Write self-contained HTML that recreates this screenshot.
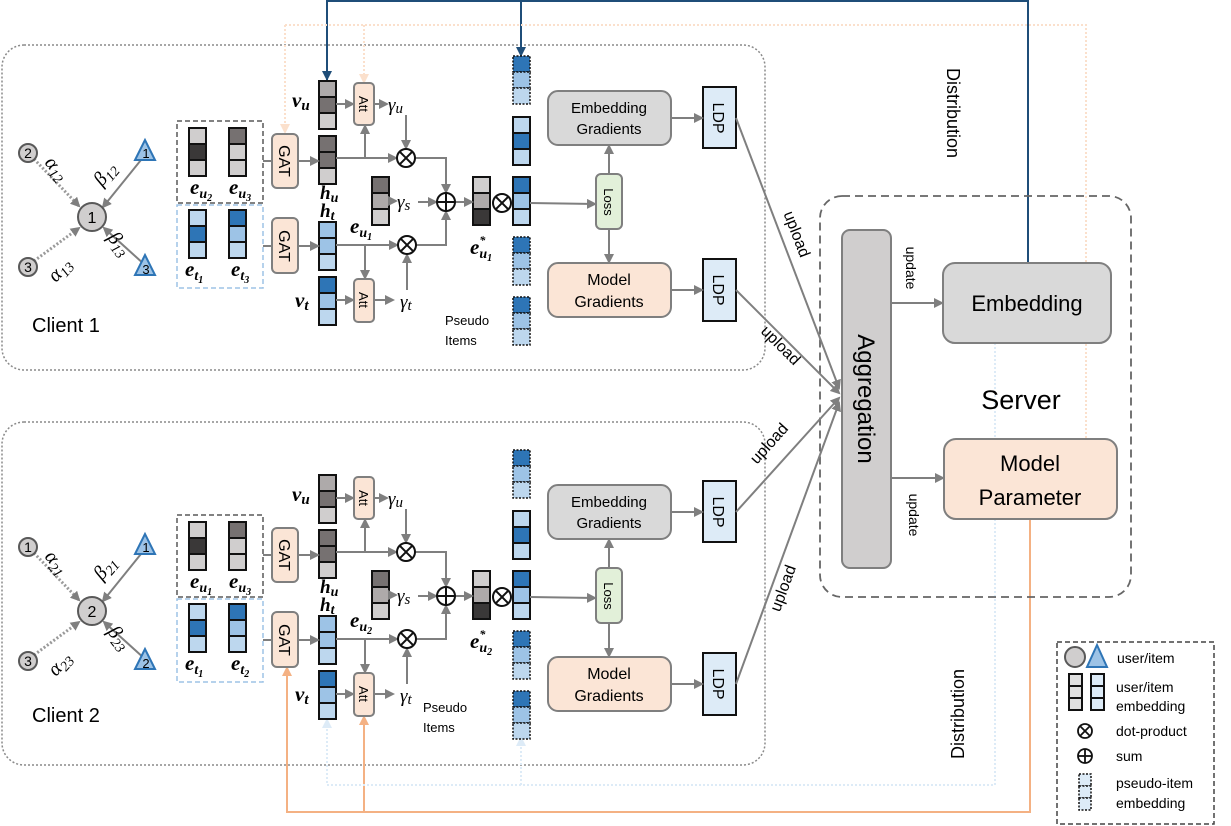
<!DOCTYPE html>
<html><head><meta charset="utf-8"><style>
html,body{margin:0;padding:0;background:#fff}
svg{display:block}
text{font-family:"Liberation Sans",sans-serif}
.m{font-family:"Liberation Serif",serif;font-style:italic}
.b{font-weight:bold}
.ln{stroke:#7f7f7f;stroke-width:2;fill:none}
.dt{stroke:#9a9a9a;stroke-width:3;stroke-dasharray:2,2;fill:none}
.c{stroke:#111;stroke-width:2}
.pd{stroke:#111;stroke-width:1.5;stroke-dasharray:2,1.5}
</style></head><body>
<svg width="1231" height="826" viewBox="0 0 1231 826" xmlns="http://www.w3.org/2000/svg">
<defs>
<marker id="ag" markerWidth="10" markerHeight="10" refX="8" refY="5" orient="auto" markerUnits="userSpaceOnUse"><polygon points="0,0 10,5 0,10" fill="#7f7f7f"/></marker>
<marker id="ab" markerWidth="10" markerHeight="10" refX="8" refY="5" orient="auto" markerUnits="userSpaceOnUse"><polygon points="0,0 10,5 0,10" fill="#1f4e79"/></marker>
<marker id="ao" markerWidth="10" markerHeight="10" refX="8" refY="5" orient="auto" markerUnits="userSpaceOnUse"><polygon points="0,0 10,5 0,10" fill="#f4b183"/></marker>
<marker id="ao2" markerWidth="10" markerHeight="10" refX="8" refY="5" orient="auto" markerUnits="userSpaceOnUse"><polygon points="0,0 10,5 0,10" fill="#fbe0cc"/></marker>
<marker id="al" markerWidth="10" markerHeight="10" refX="8" refY="5" orient="auto" markerUnits="userSpaceOnUse"><polygon points="0,0 10,5 0,10" fill="#ddebf7"/></marker>
</defs>

<rect x="2" y="45" width="763" height="325" rx="22" fill="none" stroke="#8a8a8a" stroke-width="1.5" stroke-dasharray="2,2"/>
<rect x="2" y="422" width="763" height="343" rx="22" fill="none" stroke="#8a8a8a" stroke-width="1.5" stroke-dasharray="2,2"/>

<polyline points="327,80 327,1 1028,1 1028,263" fill="none" stroke="#1f4e79" stroke-width="2"/>
<line x1="327" y1="2" x2="327" y2="79" stroke="#1f4e79" stroke-width="2" marker-end="url(#ab)"/>
<line x1="521" y1="2" x2="521" y2="55" stroke="#1f4e79" stroke-width="2" marker-end="url(#ab)"/>
<polyline points="285,25 1086,25 1086,439" fill="none" stroke="#fbe0cc" stroke-width="2" stroke-dasharray="2,2"/>
<line x1="285" y1="25" x2="285" y2="132" stroke="#fbe0cc" stroke-width="2" stroke-dasharray="2,2" marker-end="url(#ao2)"/>
<line x1="364" y1="25" x2="364" y2="82" stroke="#fbe0cc" stroke-width="2" stroke-dasharray="2,2" marker-end="url(#ao2)"/>
<polyline points="1030,519 1030,812 287,812 287,668" fill="none" stroke="#f4b183" stroke-width="2" marker-end="url(#ao)"/>
<line x1="364" y1="812" x2="364" y2="717" stroke="#f4b183" stroke-width="2" marker-end="url(#ao)"/>
<polyline points="995,343 995,785 327,785 327,720" fill="none" stroke="#ddebf7" stroke-width="2" stroke-dasharray="2,2" marker-end="url(#al)"/>
<line x1="521" y1="785" x2="521" y2="738" stroke="#ddebf7" stroke-width="2" stroke-dasharray="2,2" marker-end="url(#al)"/>

<!-- CLIENT 1 -->
<g>
<line x1="34" y1="159" x2="79" y2="206" class="dt" marker-end="url(#ag)"/>
<line x1="34" y1="261" x2="79" y2="228" class="dt" marker-end="url(#ag)"/>
<line x1="145" y1="155" x2="103" y2="207" class="ln" stroke-width="3" marker-end="url(#ag)"/>
<line x1="145" y1="265" x2="104" y2="228" class="ln" stroke-width="3" marker-end="url(#ag)"/>
<circle cx="28" cy="153" r="9" fill="#d0cece" stroke="#595959" stroke-width="2"/><text x="28" y="158" font-size="14" text-anchor="middle">2</text>
<circle cx="28" cy="267" r="9" fill="#d0cece" stroke="#595959" stroke-width="2"/><text x="28" y="272" font-size="14" text-anchor="middle">3</text>
<circle cx="92" cy="217" r="14" fill="#d0cece" stroke="#595959" stroke-width="2"/><text x="92" y="223" font-size="16" text-anchor="middle">1</text>
<polygon points="145,140 135,160 155,160" fill="#9dc3e6" stroke="#2e75b6" stroke-width="2"/><text x="146" y="158" font-size="13" text-anchor="middle">1</text>
<polygon points="145,255 135,275 155,275" fill="#9dc3e6" stroke="#2e75b6" stroke-width="2"/><text x="146" y="274" font-size="13" text-anchor="middle">3</text>
<text class="m" font-size="20" transform="translate(44,163) rotate(50)">α<tspan font-size="14" dy="4">12</tspan></text>
<text class="m" font-size="20" transform="translate(56,283) rotate(-48)">α<tspan font-size="14" dy="4">13</tspan></text>
<text class="m" font-size="20" transform="translate(102,187) rotate(-50)">β<tspan font-size="14" dy="4">12</tspan></text>
<text class="m" font-size="20" transform="translate(107,238) rotate(52)">β<tspan font-size="14" dy="4">13</tspan></text>
<rect x="177" y="121" width="86" height="82" fill="none" stroke="#595959" stroke-width="1.5" stroke-dasharray="5,3"/>
<rect x="177" y="205" width="86" height="83" fill="none" stroke="#9dc3e6" stroke-width="1.5" stroke-dasharray="5,3"/>
<g class="c">
<rect x="189" y="128" width="17" height="16" fill="#d0cece"/><rect x="189" y="144" width="17" height="16" fill="#3a3838"/><rect x="189" y="160" width="17" height="16" fill="#d0cece"/>
<rect x="229" y="128" width="17" height="16" fill="#767171"/><rect x="229" y="144" width="17" height="16" fill="#d0cece"/><rect x="229" y="160" width="17" height="16" fill="#d0cece"/>
<rect x="189" y="210" width="17" height="16" fill="#bdd7ee"/><rect x="189" y="226" width="17" height="16" fill="#2e75b6"/><rect x="189" y="242" width="17" height="16" fill="#bdd7ee"/>
<rect x="229" y="210" width="17" height="16" fill="#2e75b6"/><rect x="229" y="226" width="17" height="16" fill="#9dc3e6"/><rect x="229" y="242" width="17" height="16" fill="#bdd7ee"/>
<rect x="319" y="81" width="17" height="16" fill="#aeaaaa"/><rect x="319" y="97" width="17" height="16" fill="#767171"/><rect x="319" y="113" width="17" height="16" fill="#d0cece"/>
<rect x="319" y="136" width="17" height="16" fill="#767171"/><rect x="319" y="152" width="17" height="16" fill="#767171"/><rect x="319" y="168" width="17" height="16" fill="#d0cece"/>
<rect x="319" y="222" width="17" height="16" fill="#9dc3e6"/><rect x="319" y="238" width="17" height="16" fill="#9dc3e6"/><rect x="319" y="254" width="17" height="16" fill="#bdd7ee"/>
<rect x="319" y="277" width="17" height="16" fill="#2e75b6"/><rect x="319" y="293" width="17" height="16" fill="#9dc3e6"/><rect x="319" y="309" width="17" height="16" fill="#bdd7ee"/>
<rect x="372" y="177" width="17" height="16" fill="#767171"/><rect x="372" y="193" width="17" height="16" fill="#aeaaaa"/><rect x="372" y="209" width="17" height="16" fill="#d0cece"/>
<rect x="473" y="177" width="17" height="16" fill="#d0cece"/><rect x="473" y="193" width="17" height="16" fill="#aeaaaa"/><rect x="473" y="209" width="17" height="16" fill="#3a3838"/>
<rect x="513" y="117" width="17" height="16" fill="#bdd7ee"/><rect x="513" y="133" width="17" height="16" fill="#2e75b6"/><rect x="513" y="149" width="17" height="16" fill="#bdd7ee"/>
<rect x="513" y="177" width="17" height="16" fill="#2e75b6"/><rect x="513" y="193" width="17" height="16" fill="#9dc3e6"/><rect x="513" y="209" width="17" height="16" fill="#bdd7ee"/>
</g>
<g class="pd">
<rect x="513" y="56" width="17" height="16" fill="#2e75b6"/><rect x="513" y="72" width="17" height="16" fill="#9dc3e6"/><rect x="513" y="88" width="17" height="16" fill="#bdd7ee"/>
<rect x="513" y="237" width="17" height="16" fill="#2e75b6"/><rect x="513" y="253" width="17" height="16" fill="#9dc3e6"/><rect x="513" y="269" width="17" height="16" fill="#bdd7ee"/>
<rect x="513" y="297" width="17" height="16" fill="#2e75b6"/><rect x="513" y="313" width="17" height="16" fill="#9dc3e6"/><rect x="513" y="329" width="17" height="16" fill="#bdd7ee"/>
</g>
<text class="m b" x="190" y="194" font-size="21">e<tspan font-size="14" dy="4">u</tspan><tspan font-size="10" dy="3">2</tspan></text>
<text class="m b" x="229" y="194" font-size="21">e<tspan font-size="14" dy="4">u</tspan><tspan font-size="10" dy="3">3</tspan></text>
<text class="m b" x="185" y="276" font-size="21">e<tspan font-size="14" dy="4">t</tspan><tspan font-size="10" dy="3">1</tspan></text>
<text class="m b" x="231" y="276" font-size="21">e<tspan font-size="14" dy="4">t</tspan><tspan font-size="10" dy="3">3</tspan></text>
<text class="m b" x="292" y="107" font-size="21">v<tspan font-size="15" dy="3">u</tspan></text>
<text class="m b" x="295" y="307" font-size="21">v<tspan font-size="15" dy="3">t</tspan></text>
<text class="m b" x="320" y="199" font-size="19">h<tspan font-size="14" dy="3">u</tspan></text>
<text class="m b" x="320" y="217" font-size="19">h<tspan font-size="14" dy="3">t</tspan></text>
<text class="m b" x="350" y="233" font-size="21">e<tspan font-size="14" dy="4">u</tspan><tspan font-size="10" dy="3">1</tspan></text>
<text class="m b" x="470" y="254" font-size="21">e<tspan font-size="12" dy="-10">*</tspan><tspan font-size="14" dx="-6" dy="14">u</tspan><tspan font-size="10" dy="3">1</tspan></text>
<text class="m" x="388" y="111" font-size="19">γ<tspan font-size="15" dy="2">u</tspan></text>
<text class="m" x="397" y="208" font-size="19">γ<tspan font-size="15" dy="2">s</tspan></text>
<text class="m" x="400" y="308" font-size="19">γ<tspan font-size="15" dy="2">t</tspan></text>
<rect x="272" y="134" width="26" height="54" rx="5" fill="#fbe5d6" stroke="#7f7f7f" stroke-width="2"/>
<text transform="translate(279,161) rotate(90)" font-size="16" text-anchor="middle">GAT</text>
<rect x="272" y="218" width="26" height="55" rx="5" fill="#fbe5d6" stroke="#7f7f7f" stroke-width="2"/>
<text transform="translate(279,246) rotate(90)" font-size="16" text-anchor="middle">GAT</text>
<rect x="354" y="83" width="20" height="42" rx="4" fill="#fbe5d6" stroke="#7f7f7f" stroke-width="2"/>
<text transform="translate(359,104) rotate(90)" font-size="13" text-anchor="middle">Att</text>
<rect x="354" y="279" width="20" height="43" rx="4" fill="#fbe5d6" stroke="#7f7f7f" stroke-width="2"/>
<text transform="translate(359,300) rotate(90)" font-size="13" text-anchor="middle">Att</text>
<line x1="263" y1="161" x2="272" y2="161" class="ln"/>
<line x1="298" y1="161" x2="318" y2="161" class="ln" marker-end="url(#ag)"/>
<line x1="263" y1="246" x2="272" y2="246" class="ln"/>
<line x1="298" y1="246" x2="318" y2="246" class="ln" marker-end="url(#ag)"/>
<line x1="336" y1="104" x2="353" y2="104" class="ln" marker-end="url(#ag)"/>
<line x1="374" y1="104" x2="387" y2="104" class="ln" marker-end="url(#ag)"/>
<line x1="406" y1="115" x2="406" y2="148" class="ln" marker-end="url(#ag)"/>
<line x1="336" y1="158" x2="396" y2="158" class="ln" marker-end="url(#ag)"/>
<line x1="365" y1="158" x2="365" y2="126" class="ln" marker-end="url(#ag)"/>
<polyline points="415,158 446,158 446,192" class="ln" marker-end="url(#ag)"/>
<line x1="389" y1="201" x2="396" y2="201" class="ln" marker-end="url(#ag)"/>
<line x1="418" y1="202" x2="436" y2="202" class="ln" marker-end="url(#ag)"/>
<line x1="336" y1="245" x2="397" y2="245" class="ln" marker-end="url(#ag)"/>
<line x1="365" y1="245" x2="365" y2="278" class="ln" marker-end="url(#ag)"/>
<line x1="374" y1="300" x2="393" y2="300" class="ln" marker-end="url(#ag)"/>
<line x1="336" y1="300" x2="353" y2="300" class="ln" marker-end="url(#ag)"/>
<line x1="407" y1="290" x2="407" y2="255" class="ln" marker-end="url(#ag)"/>
<polyline points="416,245 446,245 446,212" class="ln" marker-end="url(#ag)"/>
<line x1="455" y1="202" x2="472" y2="202" class="ln" marker-end="url(#ag)"/>
<line x1="530" y1="203" x2="595" y2="204" class="ln" marker-end="url(#ag)"/>
<g stroke="#111" stroke-width="2" fill="#fff">
<circle cx="406" cy="158" r="9"/><line x1="399.6" y1="151.6" x2="412.4" y2="164.4"/><line x1="412.4" y1="151.6" x2="399.6" y2="164.4"/>
<circle cx="407" cy="245" r="9"/><line x1="400.6" y1="238.6" x2="413.4" y2="251.4"/><line x1="413.4" y1="238.6" x2="400.6" y2="251.4"/>
<circle cx="502" cy="203" r="9"/><line x1="495.6" y1="196.6" x2="508.4" y2="209.4"/><line x1="508.4" y1="196.6" x2="495.6" y2="209.4"/>
<circle cx="446" cy="202" r="9"/><line x1="437" y1="202" x2="455" y2="202"/><line x1="446" y1="193" x2="446" y2="211"/>
</g>
<text x="445" y="325" font-size="13">Pseudo</text><text x="445" y="345" font-size="13">Items</text>
<text x="32" y="332" font-size="20">Client 1</text>
<rect x="548" y="91" width="123" height="54" rx="10" fill="#d9d9d9" stroke="#7f7f7f" stroke-width="2"/>
<text x="609" y="113" font-size="15" text-anchor="middle">Embedding</text><text x="609" y="134" font-size="15" text-anchor="middle">Gradients</text>
<rect x="548" y="263" width="123" height="54" rx="10" fill="#fbe5d6" stroke="#7f7f7f" stroke-width="2"/>
<text x="609" y="285" font-size="16" text-anchor="middle">Model</text><text x="609" y="307" font-size="16" text-anchor="middle">Gradients</text>
<rect x="596" y="174" width="26" height="55" rx="5" fill="#e2f0d9" stroke="#7f7f7f" stroke-width="2"/>
<text transform="translate(604,202) rotate(90)" font-size="13" text-anchor="middle">Loss</text>
<line x1="609" y1="174" x2="609" y2="146" class="ln" marker-end="url(#ag)"/>
<line x1="609" y1="229" x2="609" y2="262" class="ln" marker-end="url(#ag)"/>
<rect x="703" y="87" width="33" height="61" fill="#ddebf7" stroke="#111" stroke-width="2"/>
<text transform="translate(713,118) rotate(90)" font-size="16" text-anchor="middle">LDP</text>
<rect x="703" y="259" width="33" height="62" fill="#ddebf7" stroke="#111" stroke-width="2"/>
<text transform="translate(713,290) rotate(90)" font-size="16" text-anchor="middle">LDP</text>
<line x1="671" y1="118" x2="702" y2="118" class="ln" marker-end="url(#ag)"/>
<line x1="671" y1="290" x2="702" y2="290" class="ln" marker-end="url(#ag)"/>
</g>

<!-- CLIENT 2 -->
<g transform="translate(0,394)">
<line x1="34" y1="159" x2="79" y2="206" class="dt" marker-end="url(#ag)"/>
<line x1="34" y1="261" x2="79" y2="228" class="dt" marker-end="url(#ag)"/>
<line x1="145" y1="155" x2="103" y2="207" class="ln" stroke-width="3" marker-end="url(#ag)"/>
<line x1="145" y1="265" x2="104" y2="228" class="ln" stroke-width="3" marker-end="url(#ag)"/>
<circle cx="28" cy="153" r="9" fill="#d0cece" stroke="#595959" stroke-width="2"/><text x="28" y="158" font-size="14" text-anchor="middle">1</text>
<circle cx="28" cy="267" r="9" fill="#d0cece" stroke="#595959" stroke-width="2"/><text x="28" y="272" font-size="14" text-anchor="middle">3</text>
<circle cx="92" cy="217" r="14" fill="#d0cece" stroke="#595959" stroke-width="2"/><text x="92" y="223" font-size="16" text-anchor="middle">2</text>
<polygon points="145,140 135,160 155,160" fill="#9dc3e6" stroke="#2e75b6" stroke-width="2"/><text x="146" y="158" font-size="13" text-anchor="middle">1</text>
<polygon points="145,255 135,275 155,275" fill="#9dc3e6" stroke="#2e75b6" stroke-width="2"/><text x="146" y="274" font-size="13" text-anchor="middle">2</text>
<text class="m" font-size="20" transform="translate(44,163) rotate(50)">α<tspan font-size="14" dy="4">21</tspan></text>
<text class="m" font-size="20" transform="translate(56,283) rotate(-48)">α<tspan font-size="14" dy="4">23</tspan></text>
<text class="m" font-size="20" transform="translate(102,187) rotate(-50)">β<tspan font-size="14" dy="4">21</tspan></text>
<text class="m" font-size="20" transform="translate(107,238) rotate(52)">β<tspan font-size="14" dy="4">23</tspan></text>
<rect x="177" y="121" width="86" height="82" fill="none" stroke="#595959" stroke-width="1.5" stroke-dasharray="5,3"/>
<rect x="177" y="205" width="86" height="83" fill="none" stroke="#9dc3e6" stroke-width="1.5" stroke-dasharray="5,3"/>
<g class="c">
<rect x="189" y="128" width="17" height="16" fill="#d0cece"/><rect x="189" y="144" width="17" height="16" fill="#3a3838"/><rect x="189" y="160" width="17" height="16" fill="#d0cece"/>
<rect x="229" y="128" width="17" height="16" fill="#767171"/><rect x="229" y="144" width="17" height="16" fill="#d0cece"/><rect x="229" y="160" width="17" height="16" fill="#d0cece"/>
<rect x="189" y="210" width="17" height="16" fill="#bdd7ee"/><rect x="189" y="226" width="17" height="16" fill="#2e75b6"/><rect x="189" y="242" width="17" height="16" fill="#bdd7ee"/>
<rect x="229" y="210" width="17" height="16" fill="#2e75b6"/><rect x="229" y="226" width="17" height="16" fill="#9dc3e6"/><rect x="229" y="242" width="17" height="16" fill="#bdd7ee"/>
<rect x="319" y="81" width="17" height="16" fill="#aeaaaa"/><rect x="319" y="97" width="17" height="16" fill="#767171"/><rect x="319" y="113" width="17" height="16" fill="#d0cece"/>
<rect x="319" y="136" width="17" height="16" fill="#767171"/><rect x="319" y="152" width="17" height="16" fill="#767171"/><rect x="319" y="168" width="17" height="16" fill="#d0cece"/>
<rect x="319" y="222" width="17" height="16" fill="#9dc3e6"/><rect x="319" y="238" width="17" height="16" fill="#9dc3e6"/><rect x="319" y="254" width="17" height="16" fill="#bdd7ee"/>
<rect x="319" y="277" width="17" height="16" fill="#2e75b6"/><rect x="319" y="293" width="17" height="16" fill="#9dc3e6"/><rect x="319" y="309" width="17" height="16" fill="#bdd7ee"/>
<rect x="372" y="177" width="17" height="16" fill="#767171"/><rect x="372" y="193" width="17" height="16" fill="#aeaaaa"/><rect x="372" y="209" width="17" height="16" fill="#d0cece"/>
<rect x="473" y="177" width="17" height="16" fill="#d0cece"/><rect x="473" y="193" width="17" height="16" fill="#aeaaaa"/><rect x="473" y="209" width="17" height="16" fill="#3a3838"/>
<rect x="513" y="117" width="17" height="16" fill="#bdd7ee"/><rect x="513" y="133" width="17" height="16" fill="#2e75b6"/><rect x="513" y="149" width="17" height="16" fill="#bdd7ee"/>
<rect x="513" y="177" width="17" height="16" fill="#2e75b6"/><rect x="513" y="193" width="17" height="16" fill="#9dc3e6"/><rect x="513" y="209" width="17" height="16" fill="#bdd7ee"/>
</g>
<g class="pd">
<rect x="513" y="56" width="17" height="16" fill="#2e75b6"/><rect x="513" y="72" width="17" height="16" fill="#9dc3e6"/><rect x="513" y="88" width="17" height="16" fill="#bdd7ee"/>
<rect x="513" y="237" width="17" height="16" fill="#2e75b6"/><rect x="513" y="253" width="17" height="16" fill="#9dc3e6"/><rect x="513" y="269" width="17" height="16" fill="#bdd7ee"/>
<rect x="513" y="297" width="17" height="16" fill="#2e75b6"/><rect x="513" y="313" width="17" height="16" fill="#9dc3e6"/><rect x="513" y="329" width="17" height="16" fill="#bdd7ee"/>
</g>
<text class="m b" x="190" y="194" font-size="21">e<tspan font-size="14" dy="4">u</tspan><tspan font-size="10" dy="3">1</tspan></text>
<text class="m b" x="229" y="194" font-size="21">e<tspan font-size="14" dy="4">u</tspan><tspan font-size="10" dy="3">3</tspan></text>
<text class="m b" x="185" y="276" font-size="21">e<tspan font-size="14" dy="4">t</tspan><tspan font-size="10" dy="3">1</tspan></text>
<text class="m b" x="231" y="276" font-size="21">e<tspan font-size="14" dy="4">t</tspan><tspan font-size="10" dy="3">2</tspan></text>
<text class="m b" x="292" y="107" font-size="21">v<tspan font-size="15" dy="3">u</tspan></text>
<text class="m b" x="295" y="307" font-size="21">v<tspan font-size="15" dy="3">t</tspan></text>
<text class="m b" x="320" y="199" font-size="19">h<tspan font-size="14" dy="3">u</tspan></text>
<text class="m b" x="320" y="217" font-size="19">h<tspan font-size="14" dy="3">t</tspan></text>
<text class="m b" x="350" y="233" font-size="21">e<tspan font-size="14" dy="4">u</tspan><tspan font-size="10" dy="3">2</tspan></text>
<text class="m b" x="470" y="254" font-size="21">e<tspan font-size="12" dy="-10">*</tspan><tspan font-size="14" dx="-6" dy="14">u</tspan><tspan font-size="10" dy="3">2</tspan></text>
<text class="m" x="388" y="111" font-size="19">γ<tspan font-size="15" dy="2">u</tspan></text>
<text class="m" x="397" y="208" font-size="19">γ<tspan font-size="15" dy="2">s</tspan></text>
<text class="m" x="400" y="308" font-size="19">γ<tspan font-size="15" dy="2">t</tspan></text>
<rect x="272" y="134" width="26" height="54" rx="5" fill="#fbe5d6" stroke="#7f7f7f" stroke-width="2"/>
<text transform="translate(279,161) rotate(90)" font-size="16" text-anchor="middle">GAT</text>
<rect x="272" y="218" width="26" height="55" rx="5" fill="#fbe5d6" stroke="#7f7f7f" stroke-width="2"/>
<text transform="translate(279,246) rotate(90)" font-size="16" text-anchor="middle">GAT</text>
<rect x="354" y="83" width="20" height="42" rx="4" fill="#fbe5d6" stroke="#7f7f7f" stroke-width="2"/>
<text transform="translate(359,104) rotate(90)" font-size="13" text-anchor="middle">Att</text>
<rect x="354" y="279" width="20" height="43" rx="4" fill="#fbe5d6" stroke="#7f7f7f" stroke-width="2"/>
<text transform="translate(359,300) rotate(90)" font-size="13" text-anchor="middle">Att</text>
<line x1="263" y1="161" x2="272" y2="161" class="ln"/>
<line x1="298" y1="161" x2="318" y2="161" class="ln" marker-end="url(#ag)"/>
<line x1="263" y1="246" x2="272" y2="246" class="ln"/>
<line x1="298" y1="246" x2="318" y2="246" class="ln" marker-end="url(#ag)"/>
<line x1="336" y1="104" x2="353" y2="104" class="ln" marker-end="url(#ag)"/>
<line x1="374" y1="104" x2="387" y2="104" class="ln" marker-end="url(#ag)"/>
<line x1="406" y1="115" x2="406" y2="148" class="ln" marker-end="url(#ag)"/>
<line x1="336" y1="158" x2="396" y2="158" class="ln" marker-end="url(#ag)"/>
<line x1="365" y1="158" x2="365" y2="126" class="ln" marker-end="url(#ag)"/>
<polyline points="415,158 446,158 446,192" class="ln" marker-end="url(#ag)"/>
<line x1="389" y1="201" x2="396" y2="201" class="ln" marker-end="url(#ag)"/>
<line x1="418" y1="202" x2="436" y2="202" class="ln" marker-end="url(#ag)"/>
<line x1="336" y1="245" x2="397" y2="245" class="ln" marker-end="url(#ag)"/>
<line x1="365" y1="245" x2="365" y2="278" class="ln" marker-end="url(#ag)"/>
<line x1="374" y1="300" x2="393" y2="300" class="ln" marker-end="url(#ag)"/>
<line x1="336" y1="300" x2="353" y2="300" class="ln" marker-end="url(#ag)"/>
<line x1="407" y1="290" x2="407" y2="255" class="ln" marker-end="url(#ag)"/>
<polyline points="416,245 446,245 446,212" class="ln" marker-end="url(#ag)"/>
<line x1="455" y1="202" x2="472" y2="202" class="ln" marker-end="url(#ag)"/>
<line x1="530" y1="203" x2="595" y2="204" class="ln" marker-end="url(#ag)"/>
<g stroke="#111" stroke-width="2" fill="#fff">
<circle cx="406" cy="158" r="9"/><line x1="399.6" y1="151.6" x2="412.4" y2="164.4"/><line x1="412.4" y1="151.6" x2="399.6" y2="164.4"/>
<circle cx="407" cy="245" r="9"/><line x1="400.6" y1="238.6" x2="413.4" y2="251.4"/><line x1="413.4" y1="238.6" x2="400.6" y2="251.4"/>
<circle cx="502" cy="203" r="9"/><line x1="495.6" y1="196.6" x2="508.4" y2="209.4"/><line x1="508.4" y1="196.6" x2="495.6" y2="209.4"/>
<circle cx="446" cy="202" r="9"/><line x1="437" y1="202" x2="455" y2="202"/><line x1="446" y1="193" x2="446" y2="211"/>
</g>
<text x="423" y="318" font-size="13">Pseudo</text><text x="423" y="338" font-size="13">Items</text>
<text x="32" y="328" font-size="20">Client 2</text>
<rect x="548" y="91" width="123" height="54" rx="10" fill="#d9d9d9" stroke="#7f7f7f" stroke-width="2"/>
<text x="609" y="113" font-size="15" text-anchor="middle">Embedding</text><text x="609" y="134" font-size="15" text-anchor="middle">Gradients</text>
<rect x="548" y="263" width="123" height="54" rx="10" fill="#fbe5d6" stroke="#7f7f7f" stroke-width="2"/>
<text x="609" y="285" font-size="16" text-anchor="middle">Model</text><text x="609" y="307" font-size="16" text-anchor="middle">Gradients</text>
<rect x="596" y="174" width="26" height="55" rx="5" fill="#e2f0d9" stroke="#7f7f7f" stroke-width="2"/>
<text transform="translate(604,202) rotate(90)" font-size="13" text-anchor="middle">Loss</text>
<line x1="609" y1="174" x2="609" y2="146" class="ln" marker-end="url(#ag)"/>
<line x1="609" y1="229" x2="609" y2="262" class="ln" marker-end="url(#ag)"/>
<rect x="703" y="87" width="33" height="61" fill="#ddebf7" stroke="#111" stroke-width="2"/>
<text transform="translate(713,118) rotate(90)" font-size="16" text-anchor="middle">LDP</text>
<rect x="703" y="259" width="33" height="62" fill="#ddebf7" stroke="#111" stroke-width="2"/>
<text transform="translate(713,290) rotate(90)" font-size="16" text-anchor="middle">LDP</text>
<line x1="671" y1="118" x2="702" y2="118" class="ln" marker-end="url(#ag)"/>
<line x1="671" y1="290" x2="702" y2="290" class="ln" marker-end="url(#ag)"/>
</g>

<!-- server -->
<rect x="820" y="196" width="311" height="401" rx="22" fill="none" stroke="#666" stroke-width="1.8" stroke-dasharray="8,5"/>
<rect x="842" y="230" width="49" height="338" rx="8" fill="#d0cece" stroke="#7f7f7f" stroke-width="2"/>
<text transform="translate(858,399) rotate(90)" font-size="24" text-anchor="middle">Aggregation</text>
<rect x="943" y="263" width="168" height="80" rx="12" fill="#d9d9d9" stroke="#7f7f7f" stroke-width="2"/>
<text x="1027" y="311" font-size="22" text-anchor="middle">Embedding</text>
<rect x="944" y="439" width="173" height="80" rx="12" fill="#fbe5d6" stroke="#7f7f7f" stroke-width="2"/>
<text x="1030" y="471" font-size="22" text-anchor="middle">Model</text>
<text x="1030" y="505" font-size="22" text-anchor="middle">Parameter</text>
<text x="1021" y="409" font-size="27" text-anchor="middle">Server</text>
<line x1="891" y1="303" x2="942" y2="303" class="ln" marker-end="url(#ag)"/>
<line x1="891" y1="478" x2="943" y2="478" class="ln" marker-end="url(#ag)"/>
<text transform="translate(906,268) rotate(90)" font-size="14" text-anchor="middle">update</text>
<text transform="translate(909,515) rotate(90)" font-size="14" text-anchor="middle">update</text>
<text transform="translate(947,113) rotate(90)" font-size="18" text-anchor="middle">Distribution</text>
<text transform="translate(964,714) rotate(-90)" font-size="18" text-anchor="middle">Distribution</text>

<line x1="736" y1="118" x2="839" y2="388" class="ln" marker-end="url(#ag)"/>
<line x1="736" y1="290" x2="839" y2="393" class="ln" marker-end="url(#ag)"/>
<line x1="736" y1="512" x2="839" y2="398" class="ln" marker-end="url(#ag)"/>
<line x1="736" y1="684" x2="839" y2="403" class="ln" marker-end="url(#ag)"/>
<text transform="translate(792,236) rotate(69)" font-size="16" text-anchor="middle">upload</text>
<text transform="translate(777,349) rotate(45)" font-size="16" text-anchor="middle">upload</text>
<text transform="translate(773,447) rotate(-48)" font-size="16" text-anchor="middle">upload</text>
<text transform="translate(788,590) rotate(-70)" font-size="16" text-anchor="middle">upload</text>

<rect x="1057" y="642" width="157" height="182" fill="#fff" stroke="#444" stroke-width="1.5" stroke-dasharray="5,3"/>
<circle cx="1075" cy="657" r="10" fill="#d0cece" stroke="#595959" stroke-width="2"/>
<polygon points="1097,645 1087,667 1107,667" fill="#9dc3e6" stroke="#2e75b6" stroke-width="2"/>
<text x="1117" y="663" font-size="14">user/item</text>
<g class="c">
<rect x="1069" y="674" width="13" height="12" fill="#e0e0e0"/><rect x="1069" y="686" width="13" height="12" fill="#e0e0e0"/><rect x="1069" y="698" width="13" height="12" fill="#e0e0e0"/>
<rect x="1091" y="674" width="13" height="12" fill="#ddebf7"/><rect x="1091" y="686" width="13" height="12" fill="#ddebf7"/><rect x="1091" y="698" width="13" height="12" fill="#ddebf7"/>
</g>
<text x="1116" y="692" font-size="14">user/item</text><text x="1116" y="711" font-size="14">embedding</text>
<g stroke="#111" stroke-width="1.8" fill="#fff">
<circle cx="1085" cy="731" r="7"/><line x1="1080" y1="726" x2="1090" y2="736"/><line x1="1090" y1="726" x2="1080" y2="736"/>
<circle cx="1085" cy="756" r="7"/><line x1="1078" y1="756" x2="1092" y2="756"/><line x1="1085" y1="749" x2="1085" y2="763"/>
</g>
<text x="1116" y="736" font-size="14">dot-product</text>
<text x="1116" y="761" font-size="14">sum</text>
<g class="pd">
<rect x="1079" y="774" width="12" height="12" fill="#ddebf7"/><rect x="1079" y="786" width="12" height="12" fill="#ddebf7"/><rect x="1079" y="798" width="12" height="12" fill="#ddebf7"/>
</g>
<text x="1116" y="788" font-size="14">pseudo-item</text><text x="1116" y="808" font-size="14">embedding</text>
</svg>
</body></html>
